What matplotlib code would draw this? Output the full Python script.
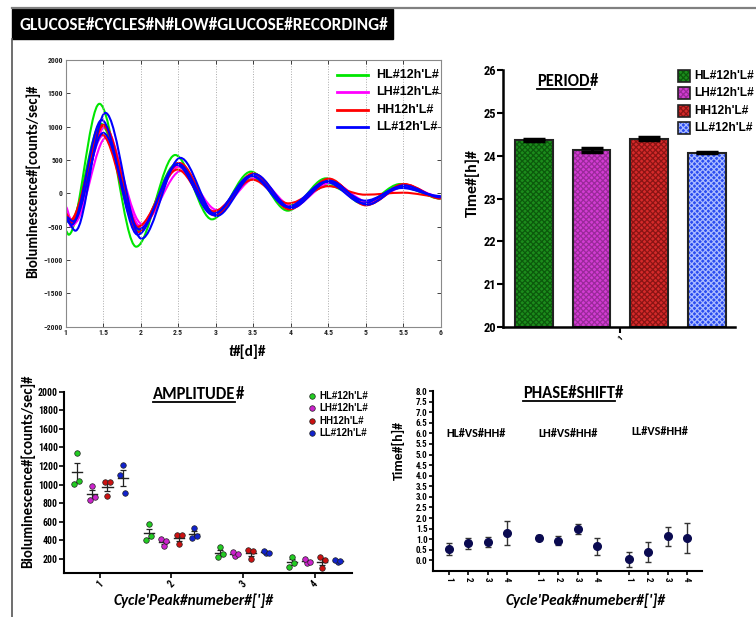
import numpy as np
import matplotlib
matplotlib.use('Agg')
import matplotlib.pyplot as plt
from matplotlib.path import Path
from matplotlib.patches import PathPatch, Rectangle
from matplotlib.lines import Line2D
from matplotlib import font_manager

W, H = 756, 617

names = {f.name for f in font_manager.fontManager.ttflist}
def pick(*fams):
    for f in fams:
        if f in names:
            return f
    return 'DejaVu Sans'

CALIBRI = pick('Carlito', 'Lato', 'Open Sans')
NARROW = pick('Liberation Sans Narrow', 'Roboto Condensed', 'Liberation Sans')
ARIAL = pick('Liberation Sans', 'DejaVu Sans')

# ---- data ----
LEGEND_LABELS = ["HL#12h'L#", "LH#12h'L#", "HH12h'L#", "LL#12h'L#"]
LINE_COLORS = ['#00e600', '#ff00ff', '#ff0000', '#0000ff']

# extrema of the bioluminescence traces: start, trough, peak1, trough1, ... , end
HL_T = [1.0, 1.04, 1.45, 1.94, 2.46, 2.95, 3.47, 3.96, 4.47, 4.97, 5.46, 6.0]
HL_SHIFT = [0.0, 0.02, 0.03]
HL_V = [[-560, -620, 1343, -800, 575, -390, 325, -260, 225, -160, 140, -80],
        [-380, -430, 1043, -560, 446, -300, 254, -200, 161, -140, 110, -60],
        [-400, -460, 1011, -520, 404, -280, 218, -180, 118, -120, 90, -70]]
LH_T = [1.0, 1.09, 1.52, 2.0, 2.52, 3.0, 3.52, 4.0, 4.52, 5.02, 5.52, 6.0]
LH_SHIFT = [0.0, 0.02, -0.02]
LH_V = [[-200, -480, 989, -500, 421, -300, 275, -230, 196, -160, 130, -70],
        [-280, -450, 839, -460, 336, -250, 232, -190, 161, -130, 110, -50],
        [-250, -500, 868, -480, 396, -270, 257, -210, 171, -150, 120, -60]]
HH_T = [1.0, 1.07, 1.49, 1.97, 2.5, 2.98, 3.5, 3.98, 4.51, 5.0, 5.51, 6.0]
HH_SHIFT = [0.0, 0.02, -0.01]
HH_V = [[-300, -420, 1025, -580, 454, -330, 300, -240, 221, -180, 140, -80],
        [-350, -450, 1025, -540, 454, -310, 286, -220, 193, -170, 130, -70],
        [-320, -400, 882, -500, 357, -270, 204, -150, 107, -20, 10, -50]]
LL_T = [1.0, 1.1, 1.5, 1.98, 2.5, 2.98, 3.49, 3.98, 4.49, 4.99, 5.48, 6.0]
LL_SHIFT = [0.03, -0.02, 0.0]
LL_V = [[-380, -560, 1207, -680, 532, -340, 289, -220, 189, -170, 120, -60],
        [-400, -470, 1100, -620, 429, -320, 264, -200, 171, -150, 100, -50],
        [-350, -420, 907, -540, 443, -300, 264, -210, 182, -110, 80, -40]]

# period (h)
PERIOD_MEAN = [24.37, 24.13, 24.40, 24.07]
PERIOD_SEM = [0.02, 0.04, 0.03, 0.01]
BAR_FACE = ['#1c8c1c', '#d23cd2', '#d42a2a', '#2a4cf0']
BAR_HATCH = ['#0c5a0c', '#9a2a9a', '#8a1414', '#aabbff']

# amplitude per cycle peak (3 recordings each: center, left, right)
CYCLES = ['1', '2', '3', '4']
AMP_HL = [[1343, 1011, 1043], [575, 404, 446], [325, 218, 254], [225, 118, 161]]
AMP_LH = [[989, 839, 868], [336, 421, 396], [232, 275, 257], [161, 196, 171]]
AMP_HH = [[882, 1025, 1025], [357, 454, 454], [204, 300, 286], [107, 221, 193]]
AMP_LL = [[1207, 1100, 907], [532, 429, 443], [264, 289, 264], [171, 189, 182]]
DOT_COLORS = ['#22cc22', '#cc22cc', '#cc1111', '#1122cc']

# phase shift (h)
PHASE_GROUPS = ['HL#VS#HH#', 'LH#VS#HH#', 'LL#VS#HH#']
PHASE_MEAN = [0.55, 0.82, 0.86, 1.29, 1.08, 0.94, 1.48, 0.66, 0.06, 0.39, 1.13, 1.05]
PHASE_ERR = [0.28, 0.26, 0.23, 0.55, 0.13, 0.22, 0.22, 0.40, 0.36, 0.47, 0.43, 0.70]


def fx(x):
    return x / W

def fy(y):
    return 1 - y / H

def axrect(l, t, r, b):
    return [fx(l), fy(b), (r - l) / W, (b - t) / H]

def wave_path(ts, vs):
    verts = [(ts[0], vs[0])]
    codes = [Path.MOVETO]
    for t0, v0, t1, v1 in zip(ts[:-1], vs[:-1], ts[1:], vs[1:]):
        dt = t1 - t0
        verts += [(t0 + dt / 3, v0), (t1 - dt / 3, v1), (t1, v1)]
        codes += [Path.CURVE4] * 3
    return Path(verts, codes)

def underlined(fig, x, y, word, tail, size, family):
    t = fig.text(fx(x), fy(y), word, fontsize=size, fontweight='bold',
                 family=family, ha='left', va='baseline')
    fig.canvas.draw()
    bb = t.get_window_extent()
    fig.text(fx(x) + bb.width / W, fy(y), tail, fontsize=size, fontweight='bold',
             family=family, ha='left', va='baseline')
    ul = fy(y) - 2.5 / H
    fig.add_artist(Line2D([fx(x), fx(x) + bb.width / W], [ul, ul], color='black',
                          lw=1.3, transform=fig.transFigure))


plt.rcParams['hatch.linewidth'] = 0.9
fig = plt.figure(figsize=(W / 100, H / 100), dpi=100)

# frame lines and title box
fig.add_artist(Line2D([fx(12), fx(756)], [fy(8), fy(8)], color='#808080', lw=1.6,
                      transform=fig.transFigure))
fig.add_artist(Line2D([fx(12), fx(12)], [fy(39), fy(617)], color='#555555', lw=1.2,
                      transform=fig.transFigure))
fig.add_artist(Rectangle((fx(12), fy(39)), 381 / W, 30 / H, color='black',
                         transform=fig.transFigure))
fig.text(fx(20), fy(25), 'GLUCOSE#CYCLES#N#LOW#GLUCOSE#RECORDING#', color='white',
         fontsize=12.4, fontweight='bold', family=CALIBRI, va='center', ha='left')

# ---- panel 1: traces ----
ax1 = fig.add_axes(axrect(65.7, 60, 440.7, 326.7))
traces = [(HL_T, HL_SHIFT, HL_V), (LH_T, LH_SHIFT, LH_V),
          (HH_T, HH_SHIFT, HH_V), (LL_T, LL_SHIFT, LL_V)]
for (ts, shifts, vals), c in zip(traces, LINE_COLORS):
    for s, vs in zip(shifts, vals):
        tt = [ts[0]] + [t + s for t in ts[1:-1]] + [ts[-1]]
        ax1.add_patch(PathPatch(wave_path(tt, vs), facecolor='none', edgecolor=c, lw=1.5))
ax1.set_xlim(1, 6)
ax1.set_ylim(-2000, 2000)
ax1.set_xticks(np.arange(1, 6.01, 0.5))
ax1.set_xticklabels(['1', '1.5', '2', '2.5', '3', '3.5', '4', '4.5', '5', '5.5', '6'])
ax1.set_yticks(np.arange(-2000, 2001, 500))
ax1.grid(axis='x', linestyle=':', color='#aaaaaa', lw=0.7)
ax1.tick_params(direction='in', top=True, right=True, length=3, width=0.6,
                labelsize=5.5, pad=2, colors='#222222')
for lab in ax1.get_xticklabels() + ax1.get_yticklabels():
    lab.set_family(NARROW)
    lab.set_fontweight('bold')
for sp in ax1.spines.values():
    sp.set_color('#8a8a8a')
    sp.set_linewidth(0.8)
fig.text(fx(33), fy(181), 'Bioluminescence#[counts/sec]#', rotation=90, fontsize=10.5,
         fontweight='bold', family=CALIBRI, ha='center', va='center')
fig.text(fx(228), fy(352), 't', fontsize=11, fontweight='bold', style='italic',
         family=CALIBRI, ha='left', va='center')
fig.text(fx(233), fy(352), '#[d]#', fontsize=11, fontweight='bold', family=CALIBRI,
         ha='left', va='center')
for i, (lab, c) in enumerate(zip(LEGEND_LABELS, LINE_COLORS)):
    y = 75 + i * 17.3
    fig.add_artist(Line2D([fx(337), fx(368)], [fy(y), fy(y)], color=c, lw=2,
                          transform=fig.transFigure))
    fig.text(fx(376), fy(y), lab, fontsize=9, fontweight='bold', family=ARIAL,
             ha='left', va='center')

# ---- panel 2: period bars ----
ax2 = fig.add_axes(axrect(503, 70, 735, 327))
xb = np.arange(4)
for i in range(4):
    ax2.bar(xb[i], PERIOD_MEAN[i] - 20, 0.655, bottom=20, color=BAR_FACE[i],
            edgecolor=BAR_HATCH[i], hatch='xxxxxx', linewidth=0)
ax2.bar(xb, np.array(PERIOD_MEAN) - 20, 0.655, bottom=20, fill=False,
        edgecolor='#222222', linewidth=1.5)
ax2.errorbar(xb, PERIOD_MEAN, yerr=PERIOD_SEM, fmt='none', ecolor='black',
             elinewidth=2, capsize=8, capthick=2.5)
ax2.set_xlim(-0.53, 3.48)
ax2.set_ylim(20, 26)
ax2.set_yticks(range(20, 27))
ax2.set_xticks([1.5])
ax2.set_xticklabels(['1'], rotation=45)
for sp in ['top', 'right']:
    ax2.spines[sp].set_visible(False)
for sp in ['left', 'bottom']:
    ax2.spines[sp].set_linewidth(1.8)
ax2.tick_params(direction='out', length=4, width=1.5, labelsize=9, pad=1)
ax2.tick_params(axis='x', labelsize=6)
for lab in ax2.get_xticklabels() + ax2.get_yticklabels():
    lab.set_family(NARROW)
    lab.set_fontweight('bold')
underlined(fig, 537, 86, 'PERIOD', '#', 12, CALIBRI)
fig.text(fx(473), fy(183), 'Time#[h]#', rotation=90, fontsize=11.5, fontweight='bold',
         family=CALIBRI, ha='center', va='center')
for i, lab in enumerate(LEGEND_LABELS):
    y = 76 + i * 17.3
    fig.add_artist(Rectangle((fx(678), fy(y + 6)), 12 / W, 12 / H, facecolor=BAR_FACE[i],
                             edgecolor=BAR_HATCH[i], hatch='xxxxxx', lw=0,
                             transform=fig.transFigure))
    fig.add_artist(Rectangle((fx(678), fy(y + 6)), 12 / W, 12 / H, fill=False,
                             edgecolor='#222222', lw=1.2, transform=fig.transFigure))
    fig.text(fx(694), fy(y), lab, fontsize=8.6, fontweight='bold', family=ARIAL,
             ha='left', va='center')

# ---- panel 3: amplitude ----
ax3 = fig.add_axes(axrect(64, 391.7, 352, 573))
offsets = [-0.32, -0.107, 0.107, 0.32]
jitter = [0.0, -0.035, 0.035]
for k, (amp, c) in enumerate(zip([AMP_HL, AMP_LH, AMP_HH, AMP_LL], DOT_COLORS)):
    for g, vals in enumerate(amp):
        xc = g + 1 + offsets[k]
        v = np.array(vals, dtype=float)
        m = v.mean()
        se = v.std(ddof=1) / np.sqrt(len(v))
        ax3.scatter(xc + np.array(jitter), v, s=16, color=c, edgecolors='#222222',
                    linewidths=0.5, zorder=3)
        ax3.plot([xc - 0.07, xc + 0.07], [m, m], color='#222222', lw=1, zorder=2)
        ax3.errorbar([xc], [m], yerr=[se], fmt='none', ecolor='#222222', elinewidth=0.9,
                     capsize=2.5, capthick=0.9, zorder=2)
ax3.set_xlim(0.5, 4.52)
ax3.set_ylim(50, 2000)
ax3.set_yticks(range(200, 2001, 200))
ax3.set_xticks([1, 2, 3, 4])
ax3.set_xticklabels(CYCLES, rotation=45)
for sp in ['top', 'right']:
    ax3.spines[sp].set_visible(False)
for sp in ['left', 'bottom']:
    ax3.spines[sp].set_linewidth(1.5)
ax3.tick_params(direction='out', length=3.5, width=1.2, labelsize=7, pad=1)
for lab in ax3.get_xticklabels() + ax3.get_yticklabels():
    lab.set_family(NARROW)
    lab.set_fontweight('bold')
underlined(fig, 153, 399, 'AMPLITUDE', '#', 12, CALIBRI)
fig.text(fx(28), fy(471), 'Bioluminescence#[counts/sec]#', rotation=90, fontsize=10.5,
         fontweight='bold', family=CALIBRI, ha='center', va='center')
fig.text(fx(194), fy(601), "Cycle'Peak#numeber#[']#", fontsize=11, style='italic',
         fontweight='semibold', family=CALIBRI, ha='center', va='center')
for i, (lab, c) in enumerate(zip(LEGEND_LABELS, DOT_COLORS)):
    y = 396 + i * 12.4
    fig.add_artist(Line2D([fx(312)], [fy(y)], marker='o', markersize=4, color=c,
                          markeredgecolor='#222222', markeredgewidth=0.5, lw=0,
                          transform=fig.transFigure))
    fig.text(fx(319), fy(y), lab, fontsize=7, fontweight='bold', family=ARIAL,
             ha='left', va='center')

# ---- panel 4: phase shift ----
ax4 = fig.add_axes(axrect(433, 391, 702, 571))
xp = np.concatenate([np.arange(4) + 4.7 * g for g in range(3)])
ax4.errorbar(xp, PHASE_MEAN, yerr=PHASE_ERR, fmt='o', color='#0a0a50', markersize=5.5,
             ecolor='#333333', elinewidth=1, capsize=2.5, capthick=1)
ax4.set_xlim(-0.85, 13.2)
ax4.set_ylim(-0.5, 8.0)
ax4.set_yticks(np.arange(0, 8.01, 0.5))
ax4.set_yticklabels(['%.1f' % v for v in np.arange(0, 8.01, 0.5)])
ax4.set_xticks(xp)
ax4.set_xticklabels(CYCLES * 3, rotation=-90)
for sp in ['top', 'right']:
    ax4.spines[sp].set_visible(False)
for sp in ['left', 'bottom']:
    ax4.spines[sp].set_linewidth(1.5)
ax4.tick_params(direction='out', length=3, width=1.2, labelsize=6.5, pad=1)
for lab in ax4.get_xticklabels() + ax4.get_yticklabels():
    lab.set_family(NARROW)
    lab.set_fontweight('bold')
for g, lab in enumerate(PHASE_GROUPS):
    ax4.text([1.4, 6.2, 11.0][g], [6.0, 6.0, 6.1][g], lab, fontsize=8.8, fontweight='bold',
             family=CALIBRI, ha='center', va='center')
underlined(fig, 522.7, 398, 'PHASE#SHIFT', '#', 12, CALIBRI)
fig.text(fx(398), fy(450), 'Time#[h]#', rotation=90, fontsize=10, fontweight='bold',
         family=CALIBRI, ha='center', va='center')
fig.text(fx(586), fy(601), "Cycle'Peak#numeber#[']#", fontsize=11, style='italic',
         fontweight='semibold', family=CALIBRI, ha='center', va='center')

fig.savefig('out.png', dpi=100)
